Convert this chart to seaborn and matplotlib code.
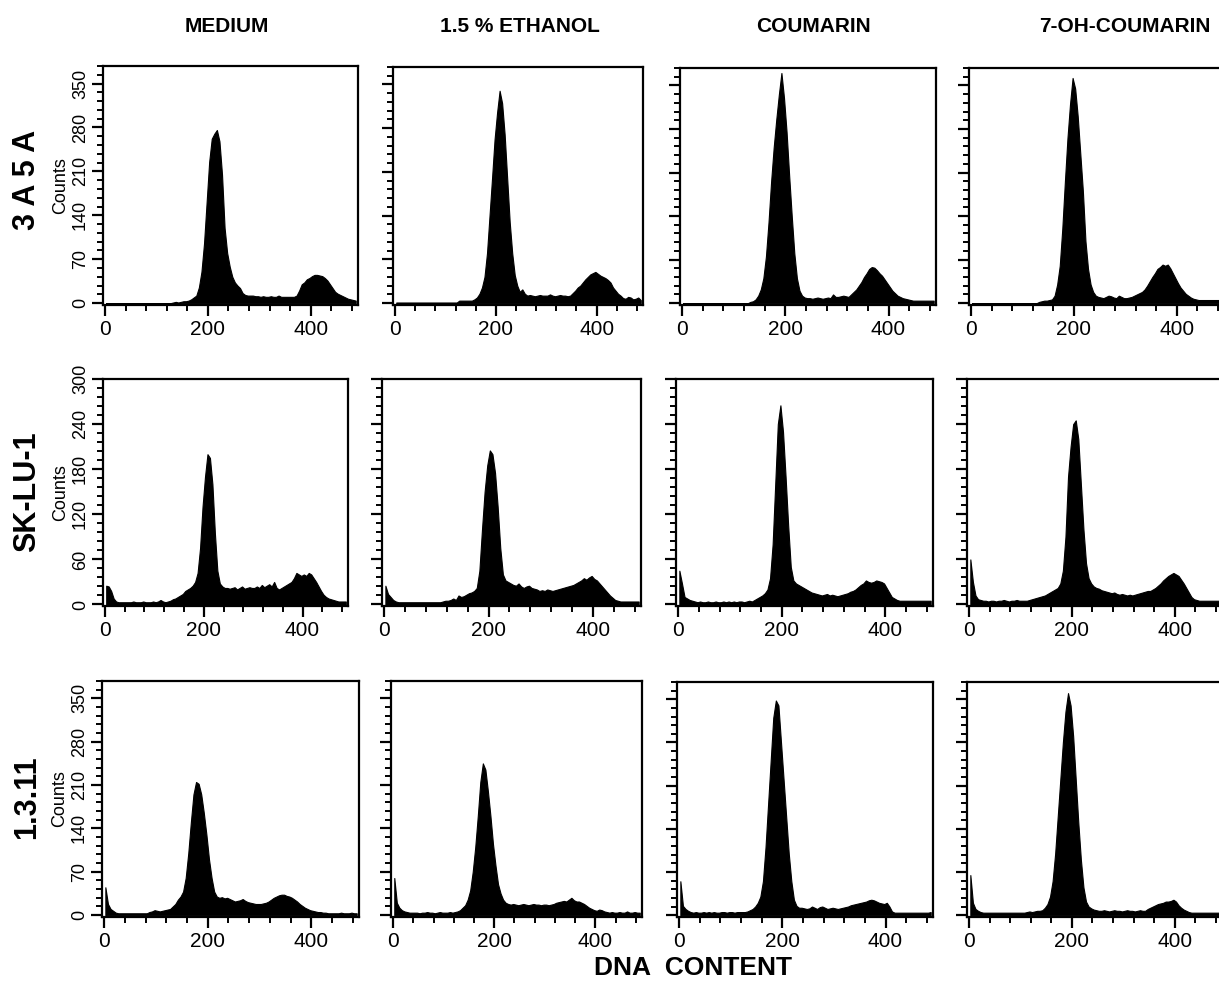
import numpy as np
import pandas as pd
import matplotlib
matplotlib.use("Agg")
import matplotlib.pyplot as plt
from matplotlib.ticker import MultipleLocator
import seaborn as sns

sns.set_theme(style="ticks")
plt.rcParams["font.family"] = ["Liberation Sans", "DejaVu Sans"]

# ---------------------------------------------------------------------------
# Data: DNA content histograms, 5-channel bins from 0 to 490
# ---------------------------------------------------------------------------
bin_edges = np.arange(0, 495, 5)
bin_centers = bin_edges[:-1] + 2.5

treatments = ["MEDIUM", "1.5 % ETHANOL", "COUMARIN", "7-OH-COUMARIN"]
cell_lines = ["3 A 5 A", "SK-LU-1", "1.3.11"]

a5a_medium = [
    0, 0, 0, 0, 0, 0, 0, 0, 0, 0,
    0, 0, 0, 0, 0, 0, 0, 0, 0, 0,
    0, 0, 0, 0, 0, 0, 1, 2, 1, 2,
    3, 3, 4, 6, 9, 12, 25, 50, 95, 160,
    225, 262, 270, 276, 258, 205, 120, 80, 58, 42,
    33, 28, 24, 16, 13, 12, 12, 12, 11, 11,
    10, 11, 10, 10, 11, 10, 10, 12, 10, 10,
    10, 10, 10, 10, 12, 20, 30, 33, 38, 40,
    43, 45, 45, 44, 43, 40, 36, 30, 24, 18,
    15, 13, 11, 9, 7, 6, 5, 4,
]
a5a_ethanol = [
    1, 1, 1, 1, 1, 1, 1, 1, 1, 1,
    1, 1, 1, 1, 1, 1, 1, 1, 1, 1,
    1, 1, 1, 1, 1, 4, 4, 4, 4, 4,
    4, 6, 9, 15, 25, 42, 80, 140, 200, 262,
    305, 340, 320, 270, 200, 130, 80, 45, 28, 18,
    22, 15, 12, 13, 12, 11, 12, 13, 12, 12,
    12, 14, 12, 11, 12, 13, 12, 12, 11, 12,
    16, 20, 25, 28, 33, 38, 42, 46, 48, 50,
    47, 44, 42, 40, 37, 33, 25, 20, 15, 12,
    8, 7, 10, 9, 6, 7, 9, 5,
]
a5a_coumarin = [
    0, 0, 0, 0, 0, 0, 0, 0, 0, 0,
    0, 0, 0, 0, 0, 0, 0, 0, 0, 0,
    0, 0, 0, 0, 0, 0, 2, 3, 6, 12,
    22, 40, 75, 130, 195, 250, 295, 335, 370, 330,
    275, 205, 140, 80, 40, 20, 12, 9, 8, 8,
    7, 8, 9, 8, 7, 8, 9, 8, 14, 10,
    10, 11, 12, 11, 10, 14, 18, 22, 28, 34,
    42, 48, 55, 58, 57, 53, 48, 44, 38, 32,
    26, 20, 16, 12, 10, 8, 7, 6, 5, 4,
    4, 4, 4, 4, 4, 4, 4, 4,
]
a5a_oh_coumarin = [
    0, 0, 0, 0, 0, 0, 0, 0, 0, 0,
    0, 0, 0, 0, 0, 0, 0, 0, 0, 0,
    0, 0, 0, 0, 0, 0, 2, 3, 4, 4,
    5, 6, 12, 30, 60, 120, 195, 265, 320, 362,
    345, 300, 240, 180, 100, 55, 30, 18, 12, 10,
    9, 8, 10, 12, 11, 9, 8, 12, 10, 8,
    8, 9, 10, 12, 14, 16, 18, 22, 28, 35,
    42, 48, 55, 58, 62, 60, 62, 56, 48, 40,
    32, 25, 20, 15, 12, 9, 7, 6, 5, 5,
    5, 5, 5, 5, 5, 5, 5, 5,
]

sklu_medium = [
    25, 24, 18, 8, 4, 3, 3, 3, 3, 3,
    3, 4, 3, 3, 3, 4, 3, 3, 3, 4,
    3, 4, 6, 4, 3, 4, 5, 7, 8, 10,
    12, 14, 18, 20, 22, 25, 30, 42, 75, 130,
    170, 200, 195, 160, 95, 45, 28, 24, 22, 22,
    21, 22, 23, 20, 22, 24, 21, 22, 23, 22,
    22, 24, 22, 26, 23, 25, 27, 24, 30, 22,
    20, 22, 24, 26, 28, 30, 35, 42, 40, 38,
    40, 38, 42, 40, 35, 30, 24, 18, 13, 10,
    8, 7, 6, 5, 4, 4, 4, 4,
]
sklu_ethanol = [
    25, 14, 10, 6, 4, 3, 3, 3, 3, 3,
    3, 3, 3, 3, 3, 3, 3, 3, 3, 3,
    3, 3, 4, 5, 5, 6, 8, 6, 12, 10,
    11, 13, 15, 16, 18, 22, 45, 100, 150, 185,
    205, 200, 175, 130, 75, 40, 32, 30, 28, 26,
    25, 28, 24, 22, 24, 25, 22, 21, 20, 18,
    19, 18, 20, 19, 18, 19, 20, 21, 22, 23,
    24, 25, 26, 28, 30, 32, 35, 33, 36, 38,
    34, 32, 28, 24, 20, 16, 12, 9, 6, 5,
    4, 4, 4, 4, 4, 4, 4, 4,
]
sklu_coumarin = [
    45, 28, 10, 8, 6, 5, 4, 3, 4, 3,
    3, 4, 3, 3, 4, 3, 3, 4, 3, 4,
    3, 4, 3, 4, 4, 3, 4, 5, 4, 6,
    8, 10, 12, 15, 20, 35, 80, 160, 240, 265,
    230, 170, 105, 50, 32, 28, 26, 24, 22, 20,
    18, 16, 15, 14, 13, 12, 13, 14, 12, 13,
    12, 11, 12, 13, 14, 15, 17, 18, 20, 23,
    26, 28, 32, 30, 29, 30, 32, 31, 30, 28,
    22, 16, 10, 8, 6, 5, 5, 5, 5, 5,
    5, 5, 5, 5, 5, 5, 5, 5,
]
sklu_oh_coumarin = [
    60, 30, 12, 7, 6, 5, 5, 4, 5, 5,
    4, 5, 5, 6, 5, 4, 5, 5, 6, 5,
    5, 5, 5, 6, 7, 8, 9, 10, 11, 12,
    14, 16, 18, 20, 22, 28, 45, 90, 170, 210,
    240, 245, 220, 160, 100, 55, 35, 28, 24, 22,
    21, 19, 18, 17, 16, 15, 16, 14, 13, 14,
    13, 12, 13, 12, 13, 14, 15, 16, 17, 18,
    18, 20, 22, 25, 28, 32, 35, 38, 40, 42,
    40, 38, 33, 28, 22, 16, 10, 7, 6, 5,
    5, 5, 5, 5, 5, 5, 5, 5,
]

l311_medium = [
    45, 18, 10, 7, 4, 3, 3, 3, 3, 3,
    3, 3, 3, 3, 3, 3, 3, 5, 6, 8,
    7, 6, 7, 8, 9, 10, 14, 18, 25, 30,
    38, 60, 100, 150, 195, 215, 212, 195, 165, 130,
    90, 60, 38, 30, 28, 29, 27, 28, 26, 24,
    22, 23, 24, 26, 23, 21, 20, 19, 18, 18,
    18, 19, 20, 22, 25, 28, 30, 32, 33, 33,
    31, 30, 28, 25, 22, 18, 15, 12, 10, 8,
    7, 6, 5, 5, 4, 4, 3, 3, 3, 3,
    3, 4, 3, 3, 3, 4, 3, 3,
]
l311_ethanol = [
    60, 20, 12, 8, 6, 5, 4, 4, 4, 4,
    3, 4, 4, 5, 4, 4, 3, 4, 5, 4,
    4, 4, 5, 4, 5, 6, 8, 12, 16, 25,
    40, 70, 110, 160, 215, 245, 235, 200, 160, 115,
    80, 50, 35, 25, 20, 18, 17, 18, 17, 16,
    17, 18, 17, 16, 17, 18, 17, 17, 16, 17,
    17, 16, 17, 18, 20, 21, 22, 23, 22, 25,
    28, 24, 22, 22, 20, 18, 15, 12, 10, 8,
    7, 9, 8, 6, 5, 4, 5, 4, 4, 5,
    4, 4, 6, 4, 4, 5, 4, 4,
]
l311_coumarin = [
    55, 15, 10, 7, 5, 4, 5, 4, 4, 5,
    4, 5, 4, 5, 4, 4, 5, 5, 4, 5,
    5, 4, 5, 5, 5, 5, 6, 8, 10, 14,
    20, 30, 55, 110, 180, 250, 320, 348, 340, 280,
    220, 160, 100, 55, 25, 15, 12, 12, 11, 10,
    11, 14, 12, 10, 13, 14, 12, 10, 11, 12,
    11, 10, 11, 12, 13, 14, 16, 17, 18, 19,
    20, 21, 22, 24, 25, 24, 22, 20, 19, 18,
    20, 14, 6, 4, 4, 4, 4, 4, 4, 4,
    4, 4, 4, 4, 4, 4, 4, 5,
]
l311_oh_coumarin = [
    65, 20, 10, 7, 5, 4, 4, 4, 4, 4,
    4, 4, 4, 4, 4, 4, 4, 4, 4, 4,
    4, 4, 5, 6, 5, 6, 7, 7, 8, 12,
    18, 30, 55, 100, 160, 220, 280, 330, 360, 340,
    290, 220, 150, 90, 45, 22, 14, 11, 9, 8,
    7, 7, 8, 7, 6, 7, 8, 7, 7, 6,
    7, 8, 7, 7, 6, 7, 8, 7, 7, 10,
    12, 14, 16, 18, 19, 20, 22, 22, 23, 25,
    22, 16, 12, 9, 7, 5, 4, 4, 4, 4,
    4, 4, 4, 4, 4, 4, 4, 4,
]

histograms = [
    [a5a_medium, a5a_ethanol, a5a_coumarin, a5a_oh_coumarin],
    [sklu_medium, sklu_ethanol, sklu_coumarin, sklu_oh_coumarin],
    [l311_medium, l311_ethanol, l311_coumarin, l311_oh_coumarin],
]

# y axis per row: (upper limit, major step)
row_yaxis = [(378, 70), (300, 60), (378, 70)]

# long table for seaborn
frames = []
for r, line in enumerate(cell_lines):
    for c, treat in enumerate(treatments):
        frames.append(pd.DataFrame({
            "line": line, "treatment": treat,
            "channel": bin_centers, "counts": histograms[r][c],
        }))
df = pd.concat(frames, ignore_index=True)

# ---------------------------------------------------------------------------
# Figure layout (pixel boxes: left, top, right, bottom)
# ---------------------------------------------------------------------------
W, H = 1219, 982
fig = plt.figure(figsize=(W / 100, H / 100), dpi=100)

boxes = [
    [(103, 66, 358, 305), (393, 67, 643, 305), (680, 68, 936, 305), (969, 68, 1224, 305)],
    [(103, 379, 348, 606), (382, 379, 641, 606), (676, 379, 933, 606), (967, 379, 1222, 606)],
    [(102, 681, 359, 917), (391, 681, 642, 917), (677, 682, 933, 917), (967, 682, 1222, 917)],
]


def px_axes(left, top, right, bottom):
    return fig.add_axes([left / W, 1 - bottom / H, (right - left) / W, (bottom - top) / H])


for r, line in enumerate(cell_lines):
    ymax, ystep = row_yaxis[r]
    for c, treat in enumerate(treatments):
        ax = px_axes(*boxes[r][c])
        sub = df[(df["line"] == line) & (df["treatment"] == treat)]
        sns.histplot(
            data=sub, x="channel", weights="counts",
            binwidth=5, binrange=(0, 490),
            element="poly", fill=True, color="black", alpha=1.0,
            linewidth=0.8, edgecolor="black", ax=ax,
        )
        ax.set_xlim(-4, 492)
        ax.set_ylim(-3 if ymax > 300 else -2, ymax)
        ax.set_xticks([0, 200, 400])
        ax.xaxis.set_minor_locator(MultipleLocator(40))
        ax.set_yticks(np.arange(0, ymax + 1, ystep))
        ax.yaxis.set_minor_locator(MultipleLocator(ystep / 5))
        ax.tick_params(axis="both", which="major", direction="out",
                       length=8, width=1.6, color="black")
        ax.tick_params(axis="both", which="minor", direction="out",
                       length=4.5, width=1.4, color="black")
        ax.tick_params(axis="x", which="major", labelsize=15, pad=3)
        ax.tick_params(axis="y", which="major", labelsize=13, pad=2)
        for lbl in ax.get_xticklabels():
            lbl.set_color("black")
        for side in ["left", "bottom", "right", "top"]:
            ax.spines[side].set_visible(True)
            ax.spines[side].set_linewidth(1.6)
            ax.spines[side].set_color("black")
        ax.set_xlabel("")
        if c == 0:
            ax.set_ylabel("Counts", fontsize=13, labelpad=2, color="black")
            for lbl in ax.get_yticklabels():
                lbl.set_rotation(90)
                lbl.set_va("center")
                lbl.set_color("black")
        else:
            ax.set_ylabel("")
            ax.set_yticklabels([])
        ax.set_facecolor("white")

# column titles
title_x = [227, 520, 813, 1125]
for x, treat in zip(title_x, treatments):
    fig.text(x / W, 1 - 27 / H, treat, ha="center", va="center",
             fontsize=15, fontweight="bold", color="black")

# row labels
row_label_y = [180, 492, 797]
for y, line in zip(row_label_y, cell_lines):
    fig.text(27 / W, 1 - y / H, line, ha="center", va="center", rotation=90,
             fontsize=22, fontweight="bold", color="black")

fig.text(693 / W, 1 - 968 / H, "DNA  CONTENT", ha="center", va="center",
         fontsize=19, fontweight="bold", color="black")

fig.savefig("out.png", dpi=100, facecolor="white")
